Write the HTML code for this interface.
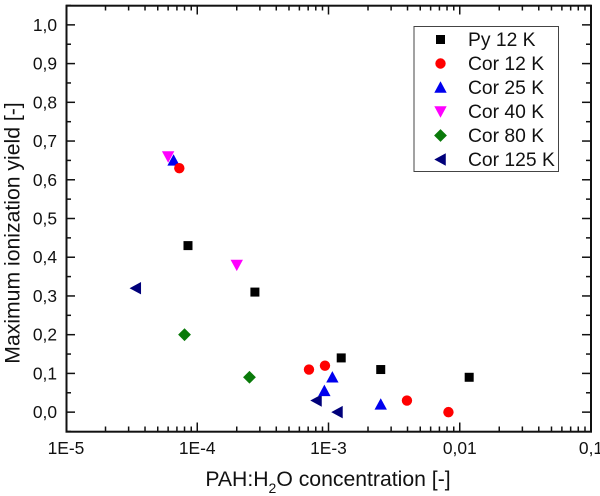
<!DOCTYPE html>
<html lang="en">
<head>
<meta charset="utf-8">
<title>Maximum ionization yield chart</title>
<style>
html,body{margin:0;padding:0;background:#fff;}
#chart{display:block;width:600px;height:496px;font-family:"Liberation Sans",sans-serif;fill:#111;}
</style>
</head>
<body>
<svg id="chart" xmlns="http://www.w3.org/2000/svg" width="600" height="496" viewBox="0 0 600 496">
  <g id="ticks"></g>
  <g id="labels"></g>
  <g id="marks"></g>
  <rect x="66.5" y="5.7" width="524.5" height="426" fill="none" stroke="#111" stroke-width="2"/>
  <text x="328" y="486" text-anchor="middle" font-size="21.2">PAH:H<tspan dy="7" font-size="14">2</tspan><tspan dy="-7">O concentration [-]</tspan></text>
  <text transform="translate(19.5,233) rotate(-90)" text-anchor="middle" font-size="21.2">Maximum ionization yield [-]</text>
  <g id="legend">
    <rect x="414" y="26.5" width="144.5" height="145" fill="#fff" stroke="#444" stroke-width="1"/>
  </g>
</svg>
<script>
const seriesNames = ["Py 12 K", "Cor 12 K", "Cor 25 K", "Cor 40 K", "Cor 80 K", "Cor 125 K"];
const seriesColors = ["#000000", "#ff0000", "#0000ee", "#ff00ff", "#0a7a0a", "#00007a"];
const seriesShapes = ["square", "circle", "up", "down", "diamond", "left"];

const pyX = [8.5e-5, 2.75e-4, 1.25e-3, 2.5e-3, 1.18e-2];
const pyY = [0.43, 0.31, 0.14, 0.11, 0.09];
const cor12X = [7.3e-5, 7.1e-4, 9.4e-4, 3.96e-3, 8.2e-3];
const cor12Y = [0.63, 0.11, 0.12, 0.03, 0.0];
const cor25X = [6.6e-5, 1.07e-3, 9.3e-4, 2.5e-3];
const cor25Y = [0.65, 0.09, 0.055, 0.02];
const cor40X = [6.0e-5, 2.0e-4];
const cor40Y = [0.66, 0.38];
const cor80X = [8.0e-5, 2.5e-4];
const cor80Y = [0.20, 0.09];
const cor125X = [3.4e-5, 8.1e-4, 1.17e-3];
const cor125Y = [0.32, 0.03, 0.0];

const xTickValues = [1e-5, 1e-4, 1e-3, 1e-2, 1e-1];
const xTickLabels = ["1E-5", "1E-4", "1E-3", "0,01", "0,1"];
const yTickValues = [0, 0.1, 0.2, 0.3, 0.4, 0.5, 0.6, 0.7, 0.8, 0.9, 1.0];
const yTickLabels = ["0,0", "0,1", "0,2", "0,3", "0,4", "0,5", "0,6", "0,7", "0,8", "0,9", "1,0"];

const allX = [pyX, cor12X, cor25X, cor40X, cor80X, cor125X];
const allY = [pyY, cor12Y, cor25Y, cor40Y, cor80Y, cor125Y];

const NS = "http://www.w3.org/2000/svg";
const left = 66, right = 591, top_ = 5.5, bottom = 431.5;
const xScale = v => left + (Math.log10(v) + 5) / 4 * (right - left);
const yScale = v => bottom - (v + 0.05) / 1.1 * (bottom - top_);

function make(tag, attrs, parent) {
  const el = document.createElementNS(NS, tag);
  for (const k in attrs) el.setAttribute(k, attrs[k]);
  parent.appendChild(el);
  return el;
}

function marker(shape, color, x, y, parent) {
  let el;
  if (shape === "square") {
    el = make("rect", {x: x - 4.5, y: y - 4.5, width: 9, height: 9, fill: color}, parent);
  } else if (shape === "circle") {
    el = make("circle", {cx: x, cy: y, r: 5.2, fill: color}, parent);
  } else {
    const s = 6.2;
    const pts = {
      up: [[x, y - s], [x + s, y + s * 0.85], [x - s, y + s * 0.85]],
      down: [[x, y + s], [x + s, y - s * 0.85], [x - s, y - s * 0.85]],
      left: [[x - s, y], [x + s * 0.85, y - s], [x + s * 0.85, y + s]],
      diamond: [[x, y - 6.4], [x + 6.4, y], [x, y + 6.4], [x - 6.4, y]]
    }[shape];
    el = make("polygon", {points: pts.map(p => p.join(",")).join(" "), fill: color}, parent);
  }
  return el;
}

const ticksG = document.getElementById("ticks");
const labelsG = document.getElementById("labels");
const marksG = document.getElementById("marks");
const legendG = document.getElementById("legend");

function tickLine(x1, y1, x2, y2) {
  const l = make("line", {x1: x1, y1: y1, x2: x2, y2: y2, stroke: "#111", "stroke-width": 1.5}, ticksG);
  
  
}

xTickValues.forEach((v, i) => {
  const x = xScale(v);
  if (i > 0 && i < xTickValues.length - 1) {
    tickLine(x, bottom, x, bottom - 9);
    tickLine(x, top_, x, top_ + 9);
  }
  if (i < xTickValues.length - 1) {
    for (let m = 2; m <= 9; m++) {
      const mx = xScale(v * m);
      tickLine(mx, bottom, mx, bottom - 5);
      tickLine(mx, top_, mx, top_ + 5);
    }
  }
  const t = make("text", {x: x, y: 454, "text-anchor": "middle", "font-size": 17.4}, labelsG);
  t.textContent = xTickLabels[i];
  
  
});

yTickValues.forEach((v, i) => {
  const y = yScale(v);
  tickLine(left, y, left + 9, y);
  tickLine(right, y, right - 9, y);
  const my = yScale(v + 0.05);
  tickLine(left, my, left + 5, my);
  tickLine(right, my, right - 5, my);
  if (i === 0) {
    const by = yScale(v - 0.05);
    tickLine(left, by, left + 5, by);
  }
  const t = make("text", {x: 57, y: y + 6, "text-anchor": "end", "font-size": 17.4}, labelsG);
  t.textContent = yTickLabels[i];
  
  
});

for (let s = seriesNames.length - 1; s >= 0; s--) {
  allX[s].forEach((xv, i) => {
    const m = marker(seriesShapes[s], seriesColors[s], xScale(xv), yScale(allY[s][i]), marksG);
    
    
  });
}

seriesNames.forEach((name, s) => {
  const y = 39.5 + s * 24;
  const m = marker(seriesShapes[s], seriesColors[s], 440.5, y, legendG);
  
  
  const t = make("text", {x: 468, y: y + 6.5, "font-size": 19.3}, legendG);
  t.textContent = name;
  
  
});
</script>
</body>
</html>
